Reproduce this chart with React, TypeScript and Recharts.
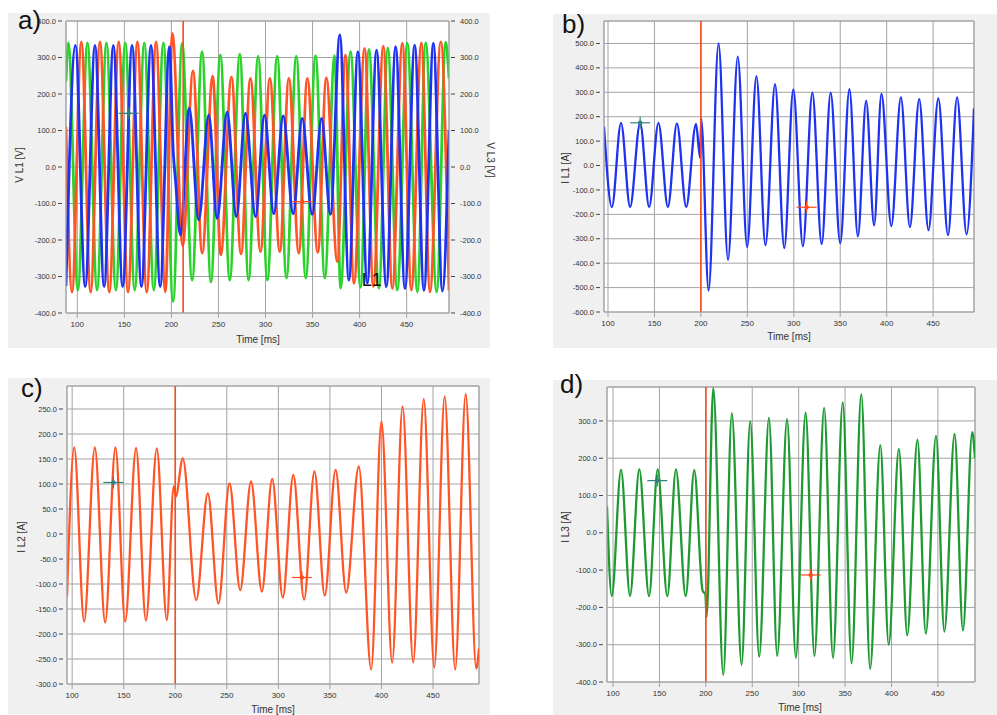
import React from 'react';
import { LineChart, Line, XAxis, YAxis, CartesianGrid, ReferenceLine, ReferenceDot } from 'recharts';

type Pt = [number, number];

const timeTicks = [100, 150, 200, 250, 300, 350, 400, 450];
const voltTicks = [-400, -300, -200, -100, 0, 100, 200, 300, 400];
const iL1Ticks = [-600, -500, -400, -300, -200, -100, 0, 100, 200, 300, 400, 500];
const iL2Ticks = [-300, -250, -200, -150, -100, -50, 0, 50, 100, 150, 200, 250];
const iL3Ticks = [-400, -300, -200, -100, 0, 100, 200, 300];

// a) phase voltages [time ms, value V] (peaks / troughs)
const vL1: Pt[] = [[88,-326],[98,333],[108.4,-328],[118.8,333],[128.5,-328],[138.3,333],[148.2,-328],[158.2,333],[168.2,-328],[178.3,333],[188.1,-328],[197.9,330],[202,40],[204.5,-40],[209.6,-186],[219,161],[229,-145],[239.7,142],[248.6,-141],[259.2,150],[269,-136],[278.7,147],[289.4,-136],[298.9,142],[308.8,-128],[318.8,140],[329.4,-128],[339,133],[349.6,-130],[359.6,133],[369,-130],[379,362],[388.6,-310],[398.2,316],[408.2,-318],[418,320],[428.4,-328],[438.3,330],[448.2,-333],[458.5,334],[468.4,-338],[478.4,339],[488,-340],[495,101]];
const vL2: Pt[] = [[88,110],[94.4,-343],[104.3,343],[114.2,-343],[124.1,343],[134,-343],[144,343],[153.9,-343],[163.9,343],[173.8,-343],[183.7,343],[193.6,-342],[201,366],[212,-215],[223,263],[232.7,-236],[243.9,249],[252.5,-241],[263.8,246],[274,-238],[284,243],[294.7,-232],[304.6,243],[315.2,-232],[324.8,243],[335.4,-236],[344.4,243],[355.6,-234],[364.6,244],[376.3,-259],[385,307],[394,-319],[405.3,325],[414.6,-328],[425.2,331],[434.8,-333],[445.4,339],[455,-337],[465.6,340],[474.8,-342],[486.2,343],[495,-338]];
const vL3: Pt[] = [[88,235],[90.5,340],[100.6,-337],[110.8,340],[121,-337],[131,340],[141,-337],[151,340],[161,-337],[171.2,340],[181.3,-337],[191.5,340],[201.8,-369],[211.4,339],[222,-310],[232.6,316],[242,-315],[252,307],[262,-310],[272.7,309],[282,-310],[292.2,304],[302,-310],[312.4,304],[322.3,-304],[332.7,304],[342.8,-304],[353.2,305],[363,-304],[373.4,305],[379.8,-332],[390.4,316],[401,-330],[409.9,322],[420.5,-332],[430,326],[440,-337],[450.7,339],[461.4,-342],[470.2,340],[481.9,-342],[491.5,342],[495,243]];

// b) c) d) phase currents [time ms, value A]
const iL1: Pt[] = [[95.7,160],[104.2,-170],[114,175],[123.8,-170],[134.6,175],[144.3,-170],[154.3,175],[164.5,-170],[174.2,173],[184.2,-170],[194.7,170],[199.3,30],[200.3,192],[208.3,-512],[219,500],[229.2,-386],[239.7,446],[249.8,-334],[259.8,366],[269.5,-327],[279.8,333],[289.8,-338],[299.5,312],[309.8,-330],[320,298],[330,-322],[339.7,298],[350,-318],[359.9,313],[369,-290],[377.9,265],[386.5,-245],[394.4,293],[405,-248],[415.3,279],[425,-252],[435,272],[445,-265],[455.6,275],[466,-285],[475.8,279],[486,-282],[494,234]];
const iL2: Pt[] = [[95,-125],[102,173],[111.6,-175],[122,173],[132,-177],[142,173],[151.4,-175],[162,172],[171.5,-173],[182.1,171],[191.8,-172],[198.5,95],[200.5,75],[207.3,151],[220.3,-132],[231.6,81],[241.9,-139],[252.6,101],[263,-112],[273.5,105],[284,-115],[294,110],[304.3,-127],[314.5,118],[325,-131],[335,125],[345,-123],[355.5,128],[365.8,-117],[378,135],[390,-271],[400,225],[410.4,-257],[420.5,255],[430.8,-257],[441,270],[451.2,-267],[461.3,275],[471.5,-271],[481.7,280],[491.9,-269],[494.6,-229]];
const iL3: Pt[] = [[93.5,71],[98.6,-169],[108.6,169],[118.3,-169],[128.3,170],[138.8,-170],[148.1,170],[158.5,-170],[167.8,170],[178.3,-170],[187.5,168],[196.5,-155],[199.5,-165],[200.8,-226],[208,388],[218.8,-381],[228,321],[238.5,-354],[247.8,299],[257.5,-332],[268,308],[276.9,-330],[287.5,305],[297,-335],[307.5,322],[317,-330],[327.5,335],[337,-335],[347.5,350],[357,-350],[367.5,372],[377,-365],[388,235],[397,-300],[408,225],[417,-275],[428,250],[437,-270],[448,260],[457,-265],[468,265],[477,-262],[487,270],[490,200]];

// cursor markers [time, value]
const cursorsA: Pt[] = [[154.6, 147], [339, -95]];
const cursorsB: Pt[] = [[134.6, 175], [313.8, -171]];
const cursorsC: Pt[] = [[140, 103], [322.8, -87]];
const cursorsD: Pt[] = [[147.7, 140], [313, -113]];

const rows = (pts: Pt[]) => pts.map(([t, v]) => ({ t, v }));

const FONT = '"Liberation Sans", Arial, sans-serif';
const GRID = '#a3a3a3';
const BLUE = '#1f32f2';
const RED = '#ff5526';
const GREEN_A = '#2ad22a';
const GREEN_D = '#1f9a33';
const TEAL = '#2f8080';
const CURSOR_RED = '#ff4a1a';

const LeftTick = (props: any) => {
  const { x, y, payload } = props;
  return (
    <g>
      <text x={x - 10} y={y + 2.6} textAnchor="end" fontSize={7.5} fill="#333" fontFamily={FONT}>
        {Number(payload.value).toFixed(1)}
      </text>
      <line x1={x - 8} x2={x - 4} y1={y} y2={y} stroke="#444" />
    </g>
  );
};

const RightTick = (props: any) => {
  const { x, y, payload } = props;
  return (
    <g>
      <line x1={x + 2} x2={x + 6} y1={y} y2={y} stroke="#444" />
      <text x={x + 11} y={y + 2.6} textAnchor="start" fontSize={7.5} fill="#333" fontFamily={FONT}>
        {Number(payload.value).toFixed(1)}
      </text>
    </g>
  );
};

const BottomTick = (props: any) => {
  const { x, y, payload } = props;
  return (
    <g>
      <line x1={x} x2={x} y1={y} y2={y + 5} stroke={GRID} />
      <text x={x} y={y + 13.5} textAnchor="middle" fontSize={8} fill="#333" fontFamily={FONT}>
        {payload.value}
      </text>
    </g>
  );
};

const crossShape = (color: string) => (p: any) => {
  const { cx, cy } = p;
  return (
    <g>
      <line x1={cx - 10} x2={cx + 10} y1={cy} y2={cy} stroke={color} strokeWidth={1.2} />
      <line x1={cx} x2={cx} y1={cy - 6} y2={cy + 6} stroke={color} strokeWidth={1.2} />
      <circle cx={cx} cy={cy} r={2.2} fill={color} />
    </g>
  );
};

const labelShape = (text: string) => (p: any) => (
  <text x={p.cx} y={p.cy} textAnchor="middle" fontSize={18} fill="#111" fontFamily={FONT}>
    {text}
  </text>
);

interface PanelSpec {
  left: number; top: number; width: number; height: number;
  mTop: number; yW: number; yRW: number; xH: number;
  xDomain: [number, number]; yDomain: [number, number]; yTicks: number[];
  series: { pts: Pt[]; color: string; width: number }[];
  cursorX: number; cursors: Pt[]; rightAxis?: boolean;
  note?: { at: Pt; text: string };
}

const Panel = ({ s }: { s: PanelSpec }) => (
  <div style={{ position: 'absolute', left: s.left, top: s.top, width: s.width, height: s.height, background: '#f0f0f0' }}>
    <LineChart width={s.width} height={s.height} margin={{ top: s.mTop, right: s.rightAxis ? 0 : s.yRW, left: 0, bottom: 0 }}>
      <CartesianGrid stroke={GRID} fill="#ffffff" />
      <XAxis dataKey="t" type="number" domain={s.xDomain} allowDataOverflow ticks={timeTicks} interval={0}
        height={s.xH} tickSize={0} tickMargin={0} tick={<BottomTick />} axisLine={{ stroke: GRID }} tickLine={false} />
      <YAxis type="number" domain={s.yDomain} allowDataOverflow ticks={s.yTicks} interval={0} width={s.yW}
        tickSize={0} tickMargin={0} tick={<LeftTick />} axisLine={{ stroke: GRID }} tickLine={false} />
      {s.rightAxis && (
        <YAxis yAxisId="r" orientation="right" type="number" domain={s.yDomain} allowDataOverflow ticks={s.yTicks}
          interval={0} width={s.yRW} tickSize={0} tickMargin={0} tick={<RightTick />} axisLine={{ stroke: GRID }} tickLine={false} />
      )}
      <ReferenceLine y={s.yDomain[1]} stroke={GRID} />
      {!s.rightAxis && <ReferenceLine x={s.xDomain[1]} stroke={GRID} />}
      {s.series.map((sr, i) => (
        <Line key={i} data={rows(sr.pts)} dataKey="v" type="monotone" dot={false} activeDot={false}
          stroke={sr.color} strokeWidth={sr.width} isAnimationActive={false} />
      ))}
      <ReferenceLine x={s.cursorX} stroke={CURSOR_RED} strokeWidth={1.6} />
      <ReferenceDot x={s.cursors[0][0]} y={s.cursors[0][1]} shape={crossShape(TEAL)} />
      <ReferenceDot x={s.cursors[1][0]} y={s.cursors[1][1]} shape={crossShape(CURSOR_RED)} />
      {s.note && <ReferenceDot x={s.note.at[0]} y={s.note.at[1]} shape={labelShape(s.note.text)} />}
    </LineChart>
  </div>
);

const panels: PanelSpec[] = [
  {
    left: 8, top: 13, width: 482, height: 335, mTop: 8, yW: 58, yRW: 41, xH: 35,
    xDomain: [88, 495], yDomain: [-400, 400], yTicks: voltTicks,
    series: [
      { pts: vL3, color: GREEN_A, width: 2.8 },
      { pts: vL2, color: RED, width: 2.8 },
      { pts: vL1, color: BLUE, width: 2.8 },
    ],
    cursorX: 212.5, cursors: cursorsA, rightAxis: true, note: { at: [413, -325], text: 'L1' },
  },
  {
    left: 553, top: 14, width: 444, height: 334, mTop: 7, yW: 51, yRW: 23, xH: 36,
    xDomain: [95.7, 494], yDomain: [-600, 592], yTicks: iL1Ticks,
    series: [{ pts: iL1, color: BLUE, width: 2.3 }],
    cursorX: 200, cursors: cursorsB,
  },
  {
    left: 8, top: 378, width: 482, height: 336, mTop: 8, yW: 59, yRW: 11, xH: 30,
    xDomain: [95, 494.6], yDomain: [-300, 296], yTicks: iL2Ticks,
    series: [{ pts: iL2, color: RED, width: 2.3 }],
    cursorX: 200, cursors: cursorsC,
  },
  {
    left: 553, top: 380, width: 444, height: 335, mTop: 7, yW: 54, yRW: 22, xH: 33,
    xDomain: [93.5, 490], yDomain: [-400, 391], yTicks: iL3Ticks,
    series: [{ pts: iL3, color: GREEN_D, width: 2.3 }],
    cursorX: 200, cursors: cursorsD,
  },
];

const titles = [
  { x: 18, y: 29, text: 'a)', size: 26 },
  { x: 562, y: 33, text: 'b)', size: 26 },
  { x: 21, y: 397, text: 'c)', size: 26 },
  { x: 560, y: 393, text: 'd)', size: 26 },
];

const axisTitles = [
  { x: 258, y: 343, text: 'Time [ms]', rot: 0 },
  { x: 789, y: 340, text: 'Time [ms]', rot: 0 },
  { x: 273, y: 713, text: 'Time [ms]', rot: 0 },
  { x: 800, y: 711, text: 'Time [ms]', rot: 0 },
  { x: 23, y: 165, text: 'V L1 [V]', rot: -90 },
  { x: 487, y: 160, text: 'V L3 [V]', rot: 90 },
  { x: 569, y: 168, text: 'I L1 [A]', rot: -90 },
  { x: 25, y: 537, text: 'I L2 [A]', rot: -90 },
  { x: 569, y: 527, text: 'I L3 [A]', rot: -90 },
];

export default function App() {
  return (
    <div style={{ position: 'absolute', left: 0, top: 0, width: 997, height: 715, background: '#ffffff', overflow: 'hidden' }}>
      {panels.map((p, i) => <Panel key={i} s={p} />)}
      <svg width={997} height={715} style={{ position: 'absolute', left: 0, top: 0, pointerEvents: 'none' }}>
        {titles.map((t, i) => (
          <text key={i} x={t.x} y={t.y} fontSize={t.size} fill="#111" fontFamily={FONT}>{t.text}</text>
        ))}
        {axisTitles.map((t, i) => (
          <text key={i} x={t.x} y={t.y} fontSize={10} fill="#333" fontFamily={FONT} textAnchor="middle"
            transform={t.rot ? `rotate(${t.rot} ${t.x} ${t.y})` : undefined}>{t.text}</text>
        ))}
      </svg>
    </div>
  );
}
